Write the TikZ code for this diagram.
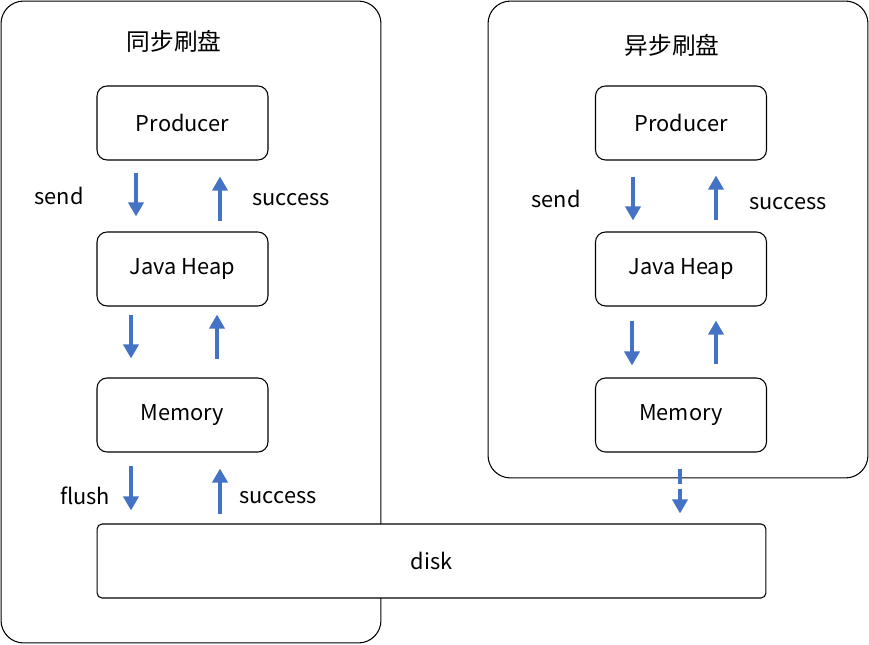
\documentclass[tikz,border=0pt]{standalone}
\usepackage{fontspec}
\setmainfont{Noto Sans CJK SC}
\usetikzlibrary{arrows.meta,positioning,calc}
\definecolor{arrowblue}{HTML}{4472C4}

\begin{document}
\begin{tikzpicture}
[x=0.02cm,y=-0.02cm,
every node/.style={font=\fontsize{12.4}{14}\selectfont},
box/.style={draw,line width=0.6pt,rounded corners=0.2cm,fill=white,
  minimum width=3.42cm,minimum height=1.48cm,inner sep=0pt},
panel/.style={draw,line width=0.6pt,rounded corners=0.45cm,minimum width=7.6cm,inner sep=0pt},
edge/.style={-{Triangle[length=0.28cm,width=0.3cm]},arrowblue,line width=2.5pt}]
\useasboundingbox (0,0) rectangle (869,645);
%%
\node[panel,minimum height=12.84cm] (syncPanel) at (191,322) {};
\node[panel,minimum height=9.54cm] (asyncPanel) at (678,239.5) {};
%%
\node[font=\fontsize{13.5}{16}\selectfont] (syncTitle) at (174,41) {同步刷盘};
\node[font=\fontsize{13.5}{16}\selectfont] (asyncTitle) at (672,45) {异步刷盘};
%%
\begin{scope}[shift={(182.5,0)}]
\node[box] (prodL) at (0,123) {Producer};
\node[box] (heapL) at (0,269) {Java Heap};
\node[box] (memL) at (0,415) {Memory};
\end{scope}
%%
\begin{scope}[shift={(681,0)}]
\node[box] (prodR) at (0,123) {Producer};
\node[box] (heapR) at (0,269) {Java Heap};
\node[box] (memR) at (0,415) {Memory};
\end{scope}
%%
\node[box,minimum width=13.38cm,rounded corners=0.1cm] (disk) at (431.5,561) {disk};
%%
\node (sendL) at (59,196) {send};
\node (okL) at (291,200) {success};
\node (flushL) at (85,496) {flush};
\node (okDisk) at (278,498) {success};
\node (sendR) at (556,199) {send};
\node (okR) at (788,204) {success};
%%
\draw[edge,shorten <=12*0.02cm,shorten >=15*0.02cm] ($(prodL.south)+(-46.5,0)$) -- ($(heapL.north)+(-46.5,0)$);
\draw[edge,shorten <=10*0.02cm,shorten >=16*0.02cm] ($(heapL.north)+(37.5,0)$) -- ($(prodL.south)+(37.5,0)$);
\draw[edge,shorten <=8*0.02cm,shorten >=19*0.02cm] ($(heapL.south)+(-51.5,0)$) -- ($(memL.north)+(-51.5,0)$);
\draw[edge,shorten <=18*0.02cm,shorten >=8*0.02cm] ($(memL.north)+(34.5,0)$) -- ($(heapL.south)+(34.5,0)$);
\draw[edge,shorten <=13*0.02cm,shorten >=13*0.02cm] ($(memL.south)+(-51.5,0)$) -- ($(memL.south |- disk.north)+(-51.5,0)$);
\draw[edge,shorten <=9*0.02cm,shorten >=16*0.02cm] ($(memL.south |- disk.north)+(37.5,0)$) -- ($(memL.south)+(37.5,0)$);
%%
\draw[edge,shorten <=16*0.02cm,shorten >=11*0.02cm] ($(prodR.south)+(-48,0)$) -- ($(heapR.north)+(-48,0)$);
\draw[edge,shorten <=11*0.02cm,shorten >=15*0.02cm] ($(heapR.north)+(35,0)$) -- ($(prodR.south)+(35,0)$);
\draw[edge,shorten <=14*0.02cm,shorten >=12*0.02cm] ($(heapR.south)+(-49,0)$) -- ($(memR.north)+(-49,0)$);
\draw[edge,shorten <=13*0.02cm,shorten >=14*0.02cm] ($(memR.north)+(35,0)$) -- ($(heapR.south)+(35,0)$);
%%
\draw[edge,dash pattern=on 0.3cm off 0.1cm,shorten <=16*0.02cm,shorten >=10*0.02cm] ($(memR.south)+(-1,0)$) -- ($(memR.south |- disk.north)+(-1,0)$);
\end{tikzpicture}
\end{document}
